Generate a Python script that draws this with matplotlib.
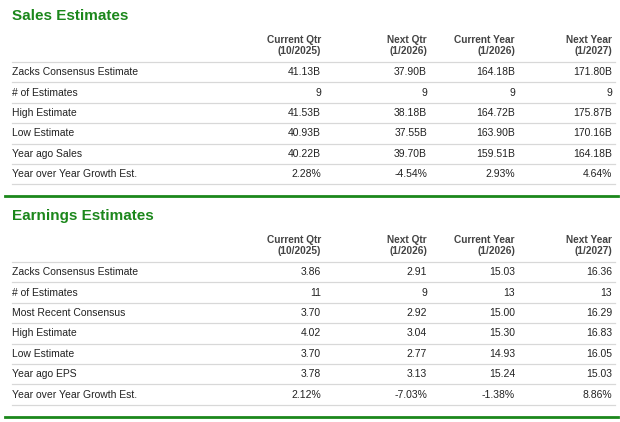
import matplotlib
matplotlib.use("Agg")
import matplotlib.pyplot as plt

col_headers = [("Current Qtr", "(10/2025)"), ("Next Qtr", "(1/2026)"),
               ("Current Year", "(1/2026)"), ("Next Year", "(1/2027)")]

sales_labels = ["Zacks Consensus Estimate", "# of Estimates", "High Estimate",
                "Low Estimate", "Year ago Sales", "Year over Year Growth Est."]
sales_values = [["41.13B", "37.90B", "164.18B", "171.80B"],
                ["9", "9", "9", "9"],
                ["41.53B", "38.18B", "164.72B", "175.87B"],
                ["40.93B", "37.55B", "163.90B", "170.16B"],
                ["40.22B", "39.70B", "159.51B", "164.18B"],
                ["2.28%", "-4.54%", "2.93%", "4.64%"]]

earn_labels = ["Zacks Consensus Estimate", "# of Estimates", "Most Recent Consensus",
               "High Estimate", "Low Estimate", "Year ago EPS", "Year over Year Growth Est."]
earn_values = [["3.86", "2.91", "15.03", "16.36"],
               ["11", "9", "13", "13"],
               ["3.70", "2.92", "15.00", "16.29"],
               ["4.02", "3.04", "15.30", "16.83"],
               ["3.70", "2.77", "14.93", "16.05"],
               ["3.78", "3.13", "15.24", "15.03"],
               ["2.12%", "-7.03%", "-1.38%", "8.86%"]]

W, H = 620, 422
fig = plt.figure(figsize=(W / 100, H / 100), dpi=100)
fig.patch.set_facecolor("white")
ax = fig.add_axes([0, 0, 1, 1])
ax.set_xlim(0, W)
ax.set_ylim(H, 0)
ax.axis("off")

FONT = "Liberation Sans"
GREEN = "#1b871b"
TXT = "#222222"
GRAY = "#d8d8d8"
col_x = [321, 427, 515, 612]
row_h = 20.4


def section(title, y0, labels, values):
    ax.text(12, y0 + 1, title, fontsize=11, fontweight="bold", color=GREEN,
            family=FONT, va="center", ha="left")
    for x, (h1, h2) in zip(col_x, col_headers):
        ax.text(x, y0 + 25, h1, fontsize=7.3, fontweight="bold", color="#444444",
                family=FONT, ha="right", va="center")
        ax.text(x, y0 + 36, h2, fontsize=7.3, fontweight="bold", color="#444444",
                family=FONT, ha="right", va="center")
    ytop = y0 + 47
    ax.plot([12, 615], [ytop, ytop], color=GRAY, lw=0.9)
    for i, (lab, vals) in enumerate(zip(labels, values)):
        yc = ytop + row_h * (i + 0.5)
        ax.text(12, yc, lab, fontsize=7.5, color=TXT, family=FONT, ha="left", va="center")
        for x, v in zip(col_x, vals):
            ax.text(x, yc, v, fontsize=7.5, color=TXT, family=FONT, ha="right", va="center")
        yl = ytop + row_h * (i + 1)
        ax.plot([12, 615], [yl, yl], color=GRAY, lw=0.9)
    yg = ytop + row_h * len(labels) + 12
    ax.plot([5, 618], [yg, yg], color=GREEN, lw=2)


section("Sales Estimates", 15, sales_labels, sales_values)
section("Earnings Estimates", 215, earn_labels, earn_values)

fig.savefig("out.png", dpi=100, facecolor="white")
